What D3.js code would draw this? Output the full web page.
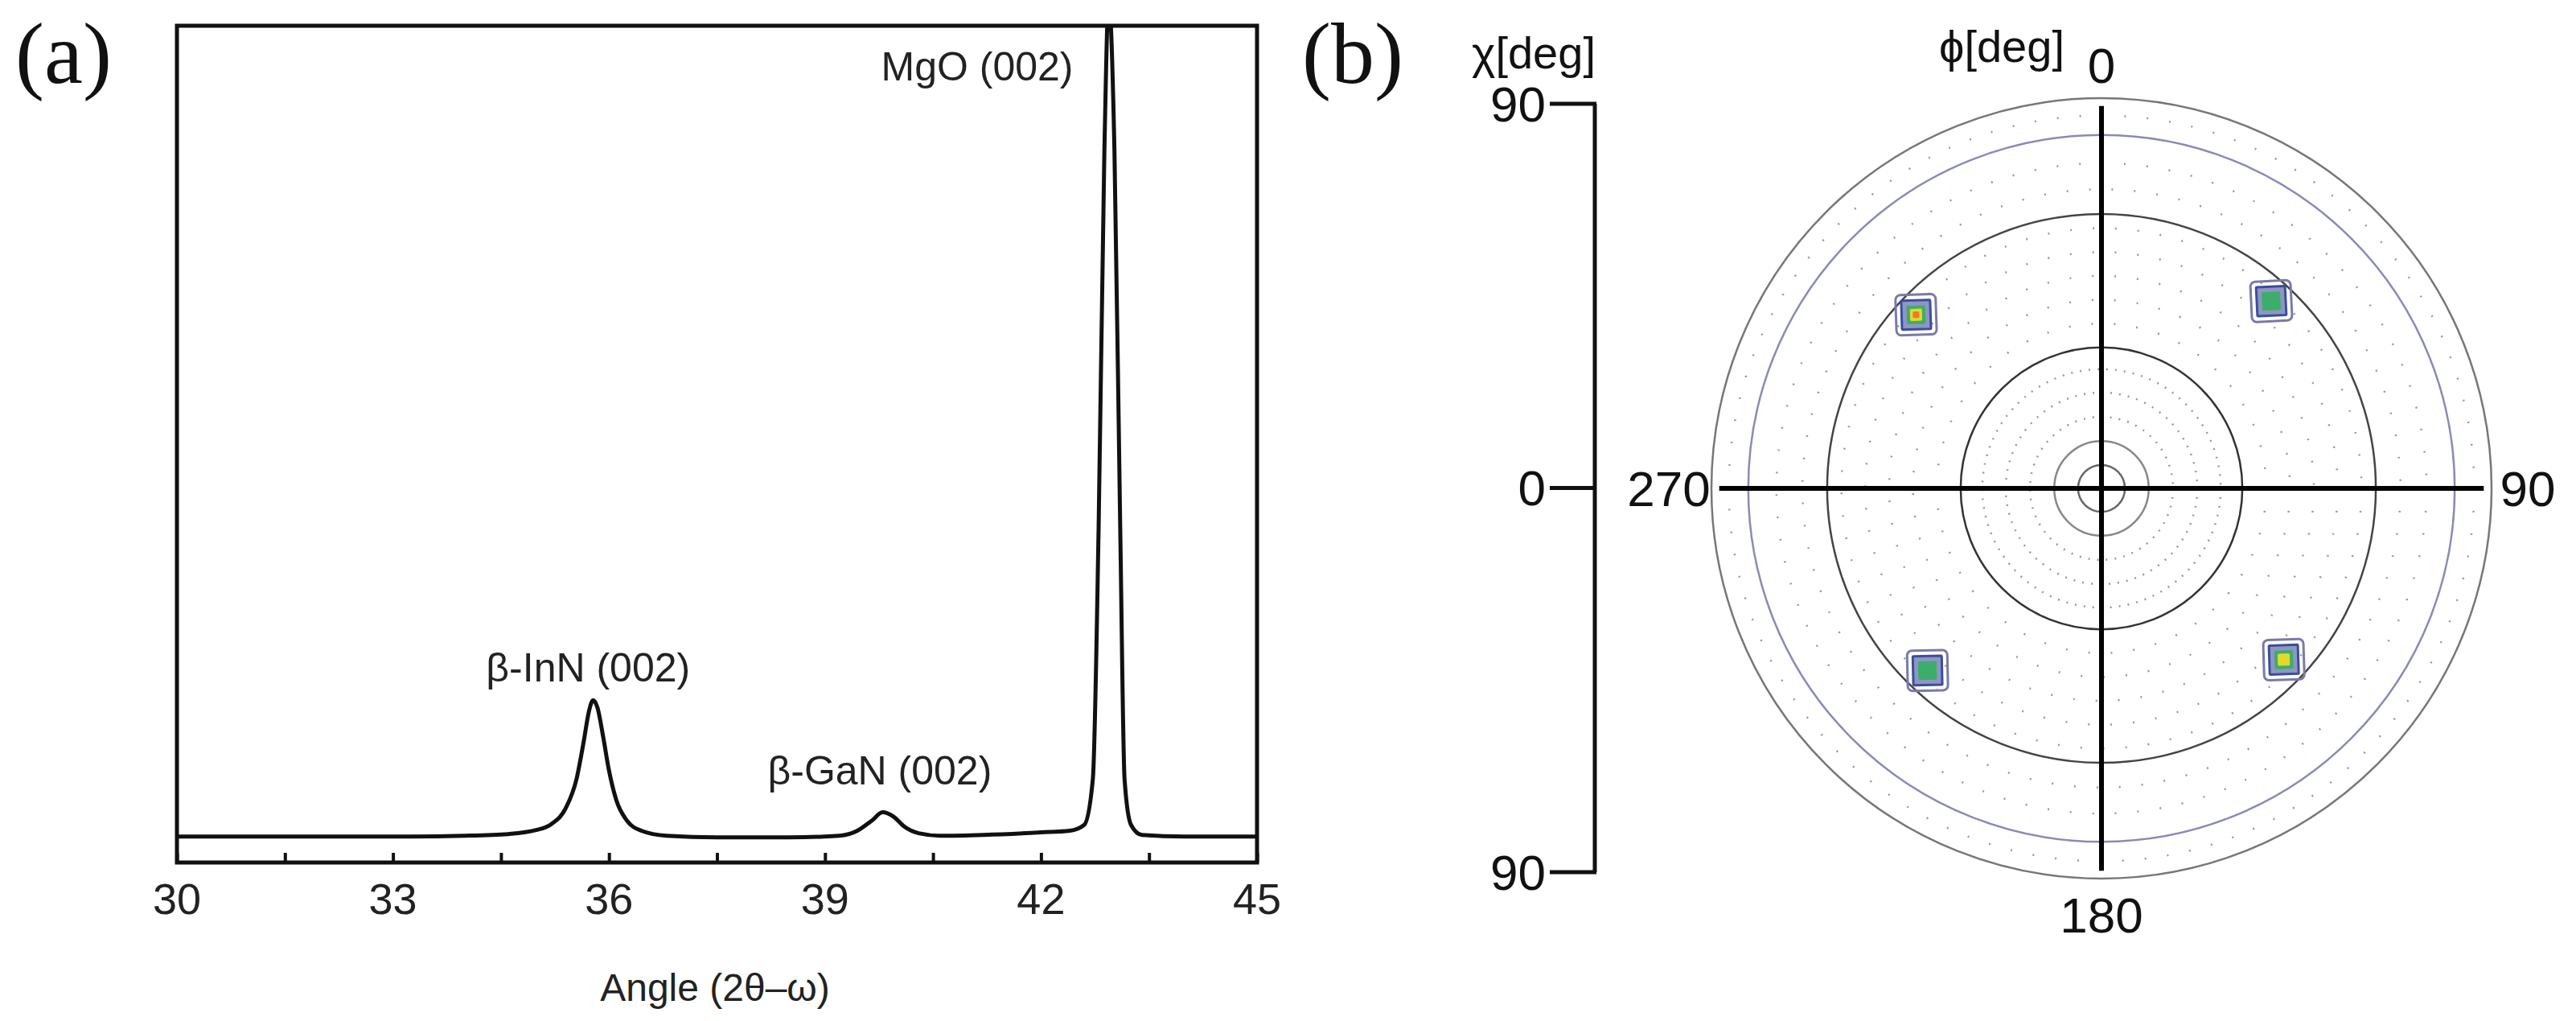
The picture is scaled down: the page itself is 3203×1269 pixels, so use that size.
<!DOCTYPE html>
<html><head><meta charset="utf-8">
<script src="https://cdn.jsdelivr.net/npm/d3@7"></script>
<style>body{margin:0;background:#fff}svg{display:block}</style>
</head><body>
<script>
// ---- Panel (a) data: XRD 2θ-ω scan ----
const angle = [30,32,33,34,34.6,35.0,35.2,35.4,35.55,35.65,35.72,35.78,35.84,35.92,36.0,36.1,36.25,36.45,36.8,37.5,38.5,39.2,39.45,39.65,39.8,39.95,40.1,40.3,40.6,41.2,42.0,42.4,42.6,42.72,42.8,42.88,42.94,43.02,43.1,43.16,43.25,43.4,44,45];
const intensity = [3.1,3.1,3.1,3.2,3.4,3.9,4.6,6.5,10,14.5,18,19.4,18.5,15,11,7.5,5.0,3.8,3.2,3.0,3.0,3.2,3.8,5.0,6.0,5.5,4.3,3.5,3.2,3.3,3.6,3.8,4.5,10,40,85,103,85,40,10,4.5,3.3,3.1,3.1];
const xTicks = [30,33,36,39,42,45];
const peakNames = ["β-InN (002)","β-GaN (002)","MgO (002)"];
const peakAngle = [35.8,39.85,42.0];
const peakLabelI = [21.6,9.3,93.5];
// ---- Panel (b) data: pole figure ----
const spotPhi = [313.1,42.2,223.7,133.2];
const spotChi = [58.6,58.3,58.1,57.7];
const spotLevels = [5,3,3,4];
const solidRings = [90,81.5,63.3,32.5,10.9,5.4];
const ringColors = ["#777","#8a8ab8","#444","#333","#888","#666"];
const dottedRings = [16.5,22.1,27.5,38,43.5,49,54.5,60,69,75,86];
const phiLabels = [0,90,180,270];
const chiLabels = ["90","0","90"];

const W=3203,H=1269;
const svg=d3.select("body").append("svg").attr("width",W).attr("height",H);
const sans="'Liberation Sans Narrow','Liberation Sans',Arial,sans-serif";
const serif="'Liberation Serif','DejaVu Serif',serif";

// Panel a
const x=d3.scaleLinear().domain([30,45]).range([220,1563]);
const y=d3.scaleLinear().domain([0,100]).range([1072,32]);
svg.append("defs").append("clipPath").attr("id","ca").append("rect")
  .attr("x",220).attr("y",32).attr("width",1343).attr("height",1040);
svg.append("path").datum(angle.map((a,i)=>[a,intensity[i]]))
  .attr("clip-path","url(#ca)")
  .attr("d",d3.line().x(d=>x(d[0])).y(d=>y(d[1])).curve(d3.curveMonotoneX))
  .attr("fill","none").attr("stroke","#111").attr("stroke-width",5);
svg.append("rect").attr("x",220).attr("y",32).attr("width",1343).attr("height",1040)
  .attr("fill","none").attr("stroke","#111").attr("stroke-width",5);
const ax=svg.append("g").attr("transform","translate(0,1072)")
  .call(d3.axisTop(x).tickValues(d3.range(30,45.01,1.5)).tickSize(12).tickFormat(""));
ax.select(".domain").remove();
ax.selectAll("line").attr("stroke","#111").attr("stroke-width",4);
svg.selectAll(".xl").data(xTicks).join("text").attr("x",d=>x(d)).attr("y",1136)
  .attr("text-anchor","middle").attr("font-family",sans).attr("font-size",54).attr("fill","#222").text(d=>d);
svg.append("text").attr("x",889).attr("y",1244).attr("text-anchor","middle")
  .attr("font-family",sans).attr("font-size",48).attr("fill","#222").text("Angle (2θ–ω)");
svg.selectAll(".pl").data(peakNames).join("text")
  .attr("x",(d,i)=>i==2?1215:x(peakAngle[i])-8).attr("y",(d,i)=>y(peakLabelI[i]))
  .attr("text-anchor","middle").attr("font-family",sans).attr("font-size",50).attr("fill","#222").text(d=>d);
svg.append("text").attr("x",79).attr("y",103).attr("text-anchor","middle")
  .attr("font-family",serif).attr("font-size",108).attr("fill","#111").text("(a)");

// Panel b
const cx=2613,cy=607;
const r=d3.scaleLinear().domain([0,90]).range([0,485]);
const g=svg.append("g").attr("transform",`translate(${cx},${cy})`);
g.selectAll(".dr").data(dottedRings).join("circle").attr("r",d=>r(d))
  .attr("fill","none").attr("stroke","#999").attr("stroke-width",2.5)
  .attr("stroke-dasharray",d=>d<30?"2 9":"2 26");
g.selectAll(".sr").data(solidRings).join("circle").attr("r",d=>r(d))
  .attr("fill","none").attr("stroke",(d,i)=>ringColors[i]).attr("stroke-width",2.5);
const L=r(88.2);
g.append("line").attr("x1",-L).attr("x2",L).attr("stroke","#000").attr("stroke-width",6);
g.append("line").attr("y1",-L).attr("y2",L).attr("stroke","#000").attr("stroke-width",6);
const lvColors=["#7a7aa8","#3a4f9a","#3cae6a","#e3d92a","#f07a2a"];
const lvSize=[50,36,22,14,7];
spotPhi.forEach((p,i)=>{
  const a=p*Math.PI/180, rr=r(spotChi[i]);
  const sg=g.append("g").attr("transform",`translate(${rr*Math.sin(a)},${-rr*Math.cos(a)}) rotate(${(p%90)-45})`);
  for(let k=0;k<spotLevels[i];k++){
    const s=lvSize[k];
    sg.append("rect").attr("x",-s/2).attr("y",-s/2).attr("width",s).attr("height",s).attr("rx",k==0?6:1)
      .attr("fill",k==0?"none":(k==1?"#8f95c4":lvColors[k])).attr("stroke",lvColors[k]).attr("stroke-width",k<2?3:1);
  }
});
const pl=[[0,81],[3143,607],[2613,1137],[2075,607]];
phiLabels.forEach((t,i)=>{
  const p=pl[i];
  svg.append("text").attr("x",i==0?cx:p[0]).attr("y",p[1]).attr("dy","0.35em").attr("text-anchor","middle")
    .attr("font-family",sans).attr("font-size",62).attr("fill","#111").text(t);
});
svg.append("text").attr("x",2489).attr("y",57).attr("dy","0.35em").attr("text-anchor","middle")
  .attr("font-family",sans).attr("font-size",56).attr("fill","#111").text("ϕ[deg]");
svg.append("text").attr("x",1907).attr("y",65).attr("dy","0.35em").attr("text-anchor","middle")
  .attr("font-family",sans).attr("font-size",56).attr("fill","#111").text("χ[deg]");
const cs=d3.scalePoint().domain([0,1,2]).range([129,1084]);
svg.append("line").attr("x1",1983).attr("x2",1983).attr("y1",129).attr("y2",1084).attr("stroke","#111").attr("stroke-width",5);
chiLabels.forEach((t,i)=>{
  svg.append("line").attr("x1",1927).attr("x2",1985).attr("y1",cs(i)).attr("y2",cs(i)).attr("stroke","#111").attr("stroke-width",5);
  svg.append("text").attr("x",1922).attr("y",cs(i)).attr("dy","0.35em").attr("text-anchor","end")
    .attr("font-family",sans).attr("font-size",62).attr("fill","#111").text(t);
});
svg.append("text").attr("x",1682).attr("y",103).attr("text-anchor","middle")
  .attr("font-family",serif).attr("font-size",108).attr("fill","#111").text("(b)");
</script>
</body></html>
